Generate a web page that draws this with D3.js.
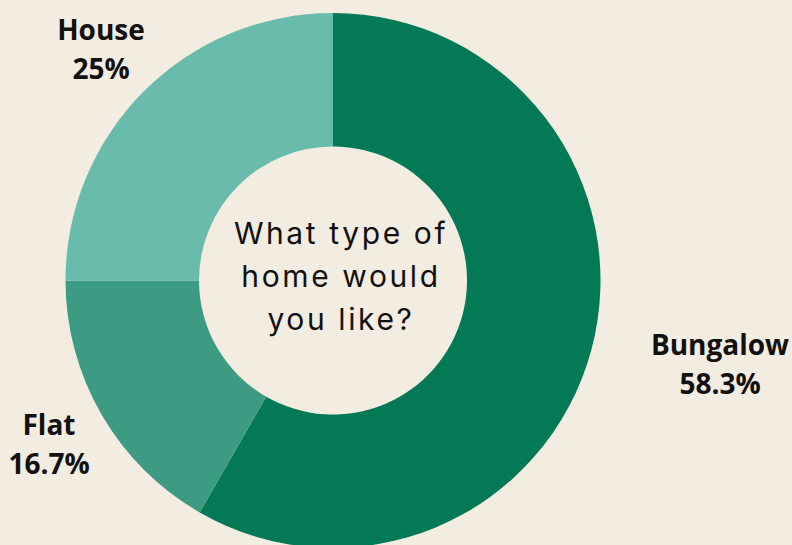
<!DOCTYPE html>
<html>
<head>
<meta charset="utf-8">
<script src="https://cdn.jsdelivr.net/npm/d3@7"></script>
<style>
  html, body { margin: 0; padding: 0; background: #f3ece0; }
  svg { display: block; }
</style>
</head>
<body>
<svg id="chart" width="792" height="545"></svg>
<script>
const categories = ["Bungalow", "Flat", "House"];
const values = [58.3, 16.7, 25];
const valueLabels = ["58.3%", "16.7%", "25%"];
const colors = ["#037a55", "#3e9b83", "#69bcac"];
const centerLines = ["What type of", "home would", "you like?"];

const svg = d3.select("#chart");
const cx = 333, cy = 280.5, outerR = 267.5, innerR = 134;

const pie = d3.pie().sort(null).value(d => d.value);
const data = categories.map((c, i) => ({ name: c, value: values[i], label: valueLabels[i], color: colors[i] }));
const arcs = pie(data);
const arc = d3.arc().innerRadius(innerR).outerRadius(outerR);

const g = svg.append("g").attr("transform", `translate(${cx},${cy})`);
g.selectAll("path").data(arcs).enter().append("path")
  .attr("d", arc)
  .attr("fill", d => d.data.color);

// external labels
const labelPos = {
  "Bungalow": [720, 355],
  "Flat": [49, 435],
  "House": [101, 40]
};
const lg = svg.append("g")
  .attr("font-family", "'Open Sans', sans-serif")
  .attr("font-weight", 700)
  .attr("font-size", 28)
  .attr("fill", "#111")
  .attr("text-anchor", "middle");
arcs.forEach(a => {
  const [x, y] = labelPos[a.data.name];
  const t = lg.append("text").attr("x", x).attr("y", y);
  t.append("tspan").attr("x", x).text(a.data.name);
  t.append("tspan").attr("x", x).attr("dy", 39).text(a.data.label);
});

// center text
const ct = svg.append("text")
  .attr("font-family", "Inter, 'Noto Sans', sans-serif")
  .attr("font-size", 30)
  .attr("fill", "#111")
  .attr("letter-spacing", 2.6)
  .attr("text-anchor", "middle");
centerLines.forEach((l, i) => {
  ct.append("tspan").attr("x", 341).attr("y", 244 + i * 43).text(l);
});
</script>
</body>
</html>
